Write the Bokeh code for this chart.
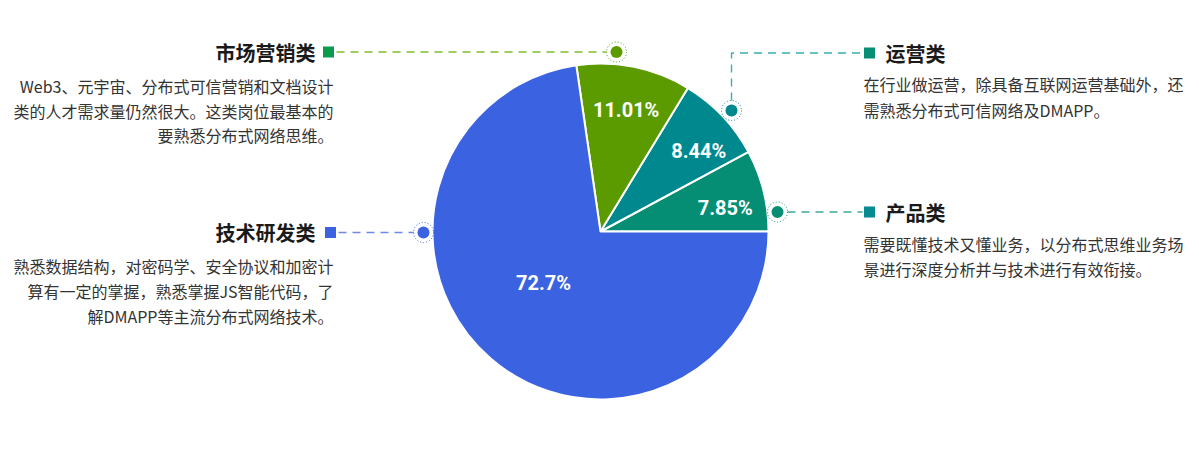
import numpy as np
from bokeh.plotting import figure
from bokeh.models import Range1d, ColumnDataSource
from bokeh.core.properties import value
from bokeh.embed import file_html
from bokeh.resources import INLINE

# ---------------- data ----------------
categories = ["产品类", "运营类", "市场营销类", "技术研发类"]
shares = [7.85, 8.44, 11.01, 72.7]
share_labels = ["7.85%", "8.44%", "11.01%", "72.7%"]
slice_colors = ["#058E74", "#00888F", "#5B9B00", "#3B62E0"]
marker_colors = ["#078A90", "#078F74", "#0A9B4B", "#3B62E0"]
leader_colors = ["#3FA898", "#3AAEB5", "#7EBE2A", "#7089E6"]
descriptions = [
    ["需要既懂技术又懂业务，以分布式思维业务场", "景进行深度分析并与技术进行有效衔接。"],
    ["在行业做运营，除具备互联网运营基础外，还", "需熟悉分布式可信网络及DMAPP。"],
    ["Web3、元宇宙、分布式可信营销和文档设计", "类的人才需求量仍然很大。这类岗位最基本的", "要熟悉分布式网络思维。"],
    ["熟悉数据结构，对密码学、安全协议和加密计", "算有一定的掌握，熟悉掌握JS智能代码，了", "解DMAPP等主流分布式网络技术。"],
]

# ---------------- layout (image pixel coords, y downward) ----------------
W, H = 1183, 446
CX, CY, R = 600, 231, 168
label_r = [127, 127, 124, 77]
label_dang = [-3.3, -4.2, -0.4, -6.8]
ann = [
    dict(side="right", tx=885, ty=211.5, sq=(869, 211.5), dot=(777, 211.5),
         path=[(787, 211.5), (862, 211.5)], desc_y=[243.5, 268]),
    dict(side="right", tx=885, ty=52.5, sq=(869, 52.5), dot=(731, 110),
         path=[(731, 100), (731, 52.5), (862, 52.5)], desc_y=[83.5, 109]),
    dict(side="left", tx=315, ty=51.5, sq=(328, 51.5), dot=(616, 51.5),
         path=[(336, 51.5), (606, 51.5)], desc_y=[85.5, 110, 134.5]),
    dict(side="left", tx=315, ty=232, sq=(330, 232), dot=(423, 232),
         path=[(338, 232), (413, 232)], desc_y=[265.5, 290, 315]),
]


def Y(y):
    return 462 - y


p = figure(width=W, height=H, x_range=Range1d(0, W), y_range=Range1d(462 - H, 462),
           output_backend="svg", toolbar_location=None, min_border=0,
           x_axis_location=None, y_axis_location=None)
p.grid.visible = False
p.outline_line_color = None
p.background_fill_color = "white"
p.border_fill_color = "white"

# ---------------- pie ----------------
fr = np.array(shares) / sum(shares)
ends = np.cumsum(fr) * 2 * np.pi
starts = ends - fr * 2 * np.pi
src = ColumnDataSource(dict(start=starts, end=ends, color=slice_colors, cat=categories))
p.wedge(x=CX, y=Y(CY), radius=R, start_angle="start", end_angle="end",
        fill_color="color", line_color="white", line_width=2, source=src)

mid = (starts + ends) / 2 + np.radians(label_dang)
lx = CX + np.array(label_r) * np.cos(mid)
ly = Y(CY) + np.array(label_r) * np.sin(mid)
p.text(x=lx, y=ly, text=share_labels, text_color="white", text_font=value("Roboto"),
       text_font_style="bold", text_font_size="20px", text_align="center", text_baseline="middle")

# ---------------- annotations ----------------
for i, a in enumerate(ann):
    xs = [pt[0] for pt in a["path"]]
    ys = [Y(pt[1]) for pt in a["path"]]
    p.line(xs, ys, line_color=leader_colors[i], line_width=1.4, line_dash="8 6")
    dx, dy = a["dot"]
    p.circle(x=dx, y=Y(dy), radius=10, fill_color=None, line_color=slice_colors[i],
             line_width=1, line_dash="1 2")
    p.circle(x=dx, y=Y(dy), radius=6, fill_color=slice_colors[i], line_color=None)
    sx, sy = a["sq"]
    p.scatter(x=sx, y=Y(sy), marker="square", size=11, fill_color=marker_colors[i], line_color=None)
    align = "left" if a["side"] == "right" else "right"
    p.text(x=a["tx"], y=Y(a["ty"]), text=[categories[i]], text_font=value("Noto Sans CJK SC"),
           text_font_style="bold", text_font_size="20px", text_color="#1a1a1a",
           text_align=align, text_baseline="middle")
    dxs = 863 if a["side"] == "right" else 333
    p.text(x=[dxs] * len(descriptions[i]), y=[Y(v) for v in a["desc_y"]], text=descriptions[i],
           text_font=value("Noto Sans CJK SC"), text_font_size="16px", text_color="#333333",
           text_align=align, text_baseline="middle")

open("out.html", "w").write(file_html(p, INLINE))
